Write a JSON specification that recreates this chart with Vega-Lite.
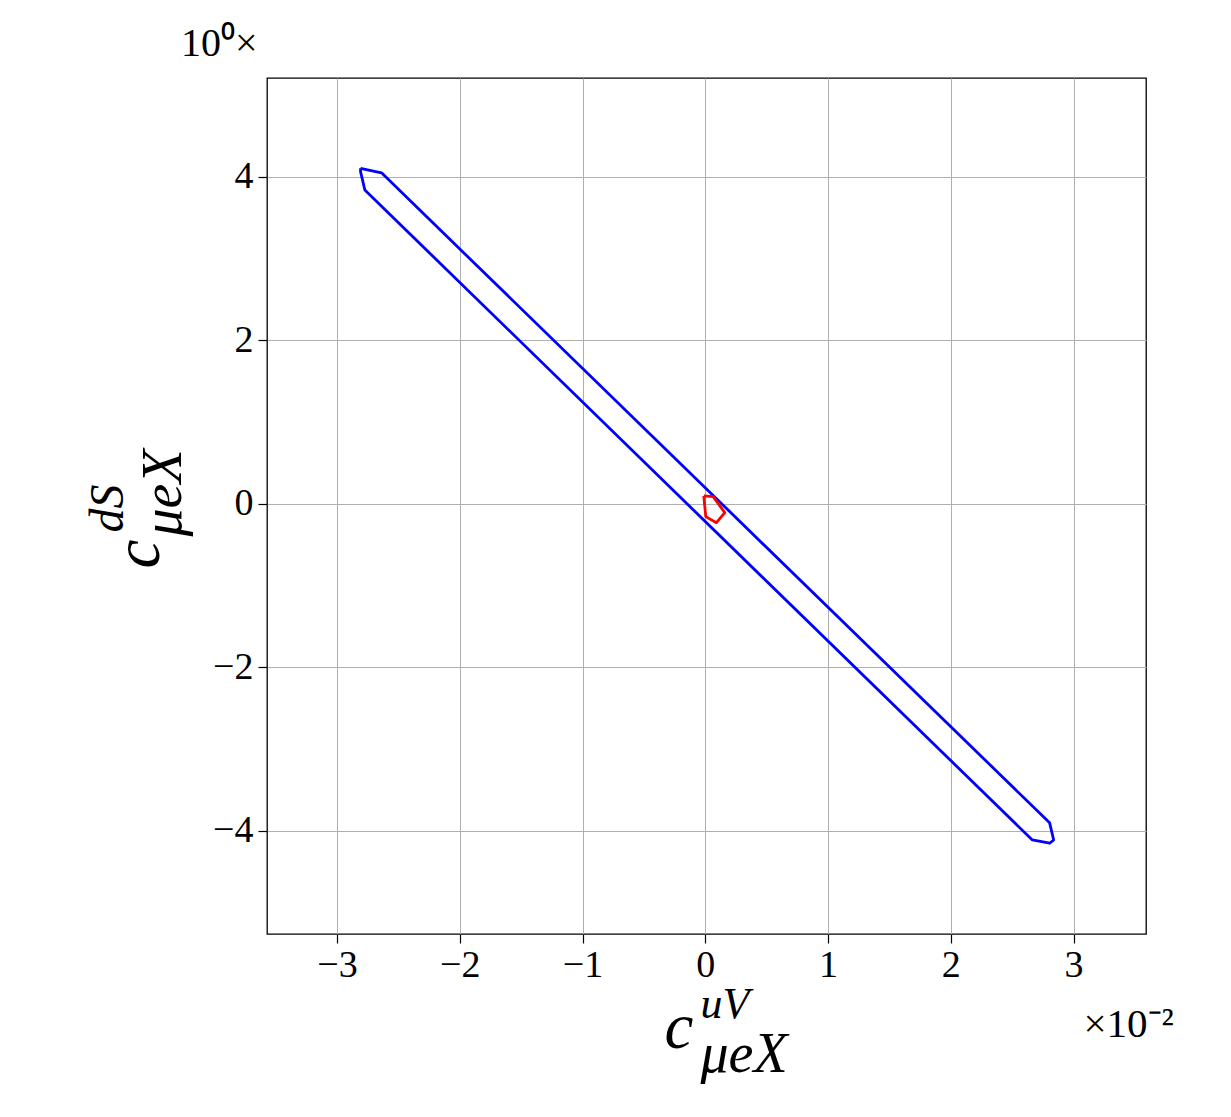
{
  "$schema": "https://vega.github.io/schema/vega-lite/v6.json",
  "width": 879,
  "height": 856,
  "autosize": "none",
  "padding": {"left": 267, "top": 78, "right": 85, "bottom": 183},
  "background": "white",
  "config": {
    "font": "Liberation Serif",
    "view": {"stroke": "black", "strokeWidth": 1.3}
  },
  "title": {
    "text": "10⁰×",
    "anchor": "start",
    "frame": "group",
    "dx": -86,
    "fontSize": 40,
    "fontWeight": "normal",
    "font": "Liberation Serif",
    "offset": 14,
    "color": "black"
  },
  "datasets": {
    "blue": [
      {"i": 1, "x": -2.808, "y": 4.106},
      {"i": 2, "x": -2.637, "y": 4.05},
      {"i": 3, "x": 2.805, "y": -3.9},
      {"i": 4, "x": 2.838, "y": -4.11},
      {"i": 5, "x": 2.805, "y": -4.15},
      {"i": 6, "x": 2.664, "y": -4.11},
      {"i": 7, "x": -2.773, "y": 3.84},
      {"i": 8, "x": -2.808, "y": 4.065},
      {"i": 9, "x": -2.808, "y": 4.106}
    ],
    "red": [
      {"i": 1, "x": -0.012, "y": 0.098},
      {"i": 2, "x": 0.064, "y": 0.089},
      {"i": 3, "x": 0.159, "y": -0.106},
      {"i": 4, "x": 0.091, "y": -0.229},
      {"i": 5, "x": 0.004, "y": -0.155},
      {"i": 6, "x": -0.012, "y": 0.098}
    ]
  },
  "layer": [
    {
      "data": {"name": "blue"},
      "mark": {"type": "line", "color": "#0000ff", "strokeWidth": 2.8, "strokeJoin": "round"},
      "encoding": {
        "x": {
          "field": "x", "type": "quantitative",
          "scale": {"domain": [-3.57, 3.59], "nice": false, "zero": false},
          "axis": {
            "values": [-3, -2, -1, 0, 1, 2, 3], "format": "d",
            "grid": true, "gridColor": "#b0b0b0", "gridWidth": 1,
            "domain": false, "tickColor": "black", "tickSize": 9, "tickWidth": 1.2,
            "labelFontSize": 38, "labelColor": "black", "labelPadding": 3, "labelFont": "Liberation Serif",
            "title": "c", "titleX": 397, "titleY": 113, "titleAlign": "left", "titleBaseline": "alphabetic",
            "titleAngle": 0, "titleFontSize": 65, "titleFontStyle": "italic", "titleFontWeight": "normal",
            "titleColor": "black", "titleFont": "Liberation Serif"
          }
        },
        "y": {
          "field": "y", "type": "quantitative",
          "scale": {"domain": [-5.26, 5.21], "nice": false, "zero": false},
          "axis": {
            "values": [-4, -2, 0, 2, 4], "format": "d",
            "grid": true, "gridColor": "#b0b0b0", "gridWidth": 1,
            "domain": false, "tickColor": "black", "tickSize": 9, "tickWidth": 1.2,
            "labelFontSize": 38, "labelColor": "black", "labelPadding": 5, "labelFont": "Liberation Serif",
            "title": "c", "titleX": -109, "titleY": 490, "titleAlign": "left", "titleBaseline": "alphabetic",
            "titleAngle": 270, "titleFontSize": 65, "titleFontStyle": "italic", "titleFontWeight": "normal",
            "titleColor": "black", "titleFont": "Liberation Serif"
          }
        },
        "order": {"field": "i", "type": "quantitative"}
      }
    },
    {
      "data": {"name": "red"},
      "mark": {"type": "line", "color": "#ff0000", "strokeWidth": 2.8, "strokeJoin": "round"},
      "encoding": {
        "x": {
          "field": "x", "type": "quantitative",
          "axis": {
            "orient": "bottom", "domain": false, "ticks": false, "labels": false, "grid": false,
            "title": "uV", "titleX": 433, "titleY": 83, "titleAlign": "left", "titleBaseline": "alphabetic",
            "titleAngle": 0, "titleFontSize": 44, "titleFontStyle": "italic", "titleFontWeight": "normal",
            "titleColor": "black", "titleFont": "Liberation Serif"
          }
        },
        "y": {
          "field": "y", "type": "quantitative",
          "axis": {
            "orient": "left", "domain": false, "ticks": false, "labels": false, "grid": false,
            "title": "dS", "titleX": -145, "titleY": 454, "titleAlign": "left", "titleBaseline": "alphabetic",
            "titleAngle": 270, "titleFontSize": 48, "titleFontStyle": "italic", "titleFontWeight": "normal",
            "titleColor": "black", "titleFont": "Liberation Serif"
          }
        },
        "order": {"field": "i", "type": "quantitative"}
      }
    },
    {
      "data": {"name": "red"},
      "mark": {"type": "point", "opacity": 0},
      "encoding": {
        "x": {
          "field": "x", "type": "quantitative",
          "axis": {
            "orient": "bottom", "domain": false, "ticks": false, "labels": false, "grid": false,
            "title": "μeX", "titleX": 433, "titleY": 137, "titleAlign": "left", "titleBaseline": "alphabetic",
            "titleAngle": 0, "titleFontSize": 56, "titleFontStyle": "italic", "titleFontWeight": "normal",
            "titleColor": "black", "titleFont": "Liberation Serif"
          }
        },
        "y": {
          "field": "y", "type": "quantitative",
          "axis": {
            "orient": "left", "domain": false, "ticks": false, "labels": false, "grid": false,
            "title": "μeX", "titleX": -87, "titleY": 458, "titleAlign": "left", "titleBaseline": "alphabetic",
            "titleAngle": 270, "titleFontSize": 56, "titleFontStyle": "italic", "titleFontWeight": "normal",
            "titleColor": "black", "titleFont": "Liberation Serif"
          }
        }
      }
    },
    {
      "data": {"name": "red"},
      "mark": {"type": "point", "opacity": 0},
      "encoding": {
        "x": {
          "field": "x", "type": "quantitative",
          "axis": {
            "orient": "bottom", "domain": false, "ticks": false, "labels": false, "grid": false,
            "title": "×10⁻²", "titleX": 816, "titleY": 102, "titleAlign": "left", "titleBaseline": "alphabetic",
            "titleAngle": 0, "titleFontSize": 41, "titleFontStyle": "normal", "titleFontWeight": "normal",
            "titleColor": "black", "titleFont": "Liberation Serif"
          }
        },
        "y": {"field": "y", "type": "quantitative", "axis": null}
      }
    }
  ],
  "resolve": {"axis": {"x": "independent", "y": "independent"}}
}
